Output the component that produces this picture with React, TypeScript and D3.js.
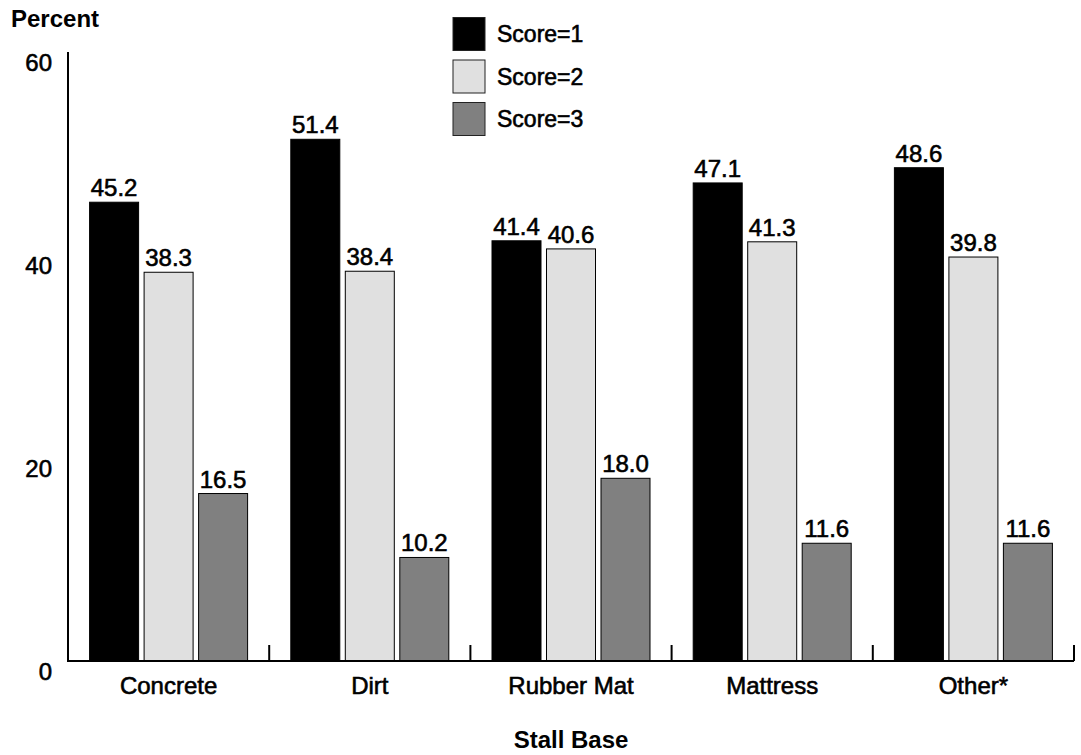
import React from "react";
import * as d3 from "d3";

const categories = ["Concrete", "Dirt", "Rubber Mat", "Mattress", "Other*"];
const seriesNames = ["Score=1", "Score=2", "Score=3"];
const score1 = [45.2, 51.4, 41.4, 47.1, 48.6];
const score2 = [38.3, 38.4, 40.6, 41.3, 39.8];
const score3 = [16.5, 10.2, 18.0, 11.6, 11.6];
const yTicks = [0, 20, 40, 60];
const colors = ["#000000", "#e0e0e0", "#808080"];

const FONT = "'Liberation Sans', Arial, Helvetica, sans-serif";
const heavy = { stroke: "#000", strokeWidth: 0.6 };

export default function App() {
  const W = 1081, H = 755;
  const x0 = 68, x1 = 1074, yTop = 52, yBase = 661;
  const series = [score1, score2, score3];

  const x = d3.scaleBand<string>().domain(categories).range([x0, x1]).paddingInner(0).paddingOuter(0);
  const y = d3.scaleLinear().domain([0, 60]).range([yBase, yTop]);
  const barW = 49;
  const step = 54.5;

  const boundaries = d3.range(categories.length + 1).map((i) => x0 + i * x.step());

  return (
    <svg width={W} height={H} style={{ position: "absolute", left: 0, top: 0, background: "#fff" }} fontFamily={FONT}>
      <rect x={0} y={0} width={W} height={H} fill="#fff" />
      <text x={11} y={26.5} fontSize={24} fontWeight="bold" fill="#000">Percent</text>
      {yTicks.map((t) => (
        <text key={t} x={52} y={y(t) + 18.5} fontSize={24} textAnchor="end" fill="#000" {...heavy}>{t}</text>
      ))}
      {categories.map((c, ci) => {
        const cx = (x(c) as number) + x.bandwidth() / 2;
        return (
          <g key={c}>
            {series.map((s, si) => {
              const bx = cx + (si - 1) * step - barW / 2;
              const v = s[ci];
              return (
                <g key={si}>
                  <rect x={bx} y={y(v)} width={barW} height={yBase - y(v)} fill={colors[si]} stroke="#000" strokeWidth={1} />
                  <text x={bx + barW / 2} y={y(v) - 6} fontSize={24} textAnchor="middle" fill="#000" {...heavy}>{v.toFixed(1)}</text>
                </g>
              );
            })}
            <text x={cx} y={694} fontSize={24} textAnchor="middle" fill="#000" {...heavy}>{c}</text>
          </g>
        );
      })}
      <line x1={x0} y1={yTop} x2={x0} y2={yBase + 1} stroke="#000" strokeWidth={2} />
      <line x1={x0} y1={yBase} x2={x1} y2={yBase} stroke="#000" strokeWidth={2} />
      {boundaries.slice(1).map((bx, i) => (
        <line key={i} x1={bx} y1={yBase} x2={bx} y2={yBase - 16} stroke="#000" strokeWidth={2} />
      ))}
      <text x={571} y={748} fontSize={24} fontWeight="bold" textAnchor="middle" fill="#000">Stall Base</text>
      {seriesNames.map((n, i) => (
        <g key={n}>
          <rect x={453} y={17.5 + i * 42.5} width={32} height={33} fill={colors[i]} stroke="#222" strokeWidth={1} />
          <text x={497} y={42 + i * 42.5} fontSize={23} fill="#000" {...heavy}>{n}</text>
        </g>
      ))}
    </svg>
  );
}
